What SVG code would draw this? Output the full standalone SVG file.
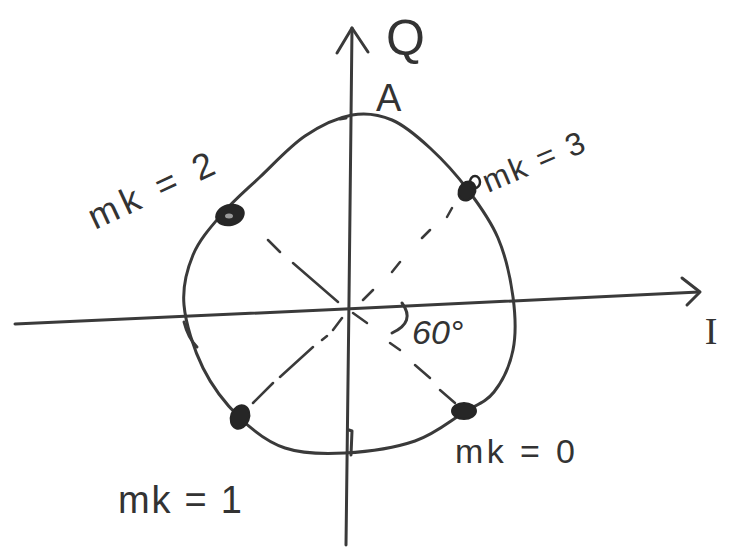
<svg xmlns="http://www.w3.org/2000/svg" width="752" height="550" viewBox="0 0 752 550">
<style>
.ink{fill:none;stroke:#3a3a3a;stroke-width:3;stroke-linecap:round;stroke-linejoin:round}
.dash{fill:none;stroke:#3a3a3a;stroke-width:2.5;stroke-linecap:round}
.dot{fill:#262626;stroke:#262626;stroke-width:2}
.lbl{font-family:"Liberation Sans",Arial,sans-serif;fill:#333}
</style>
<rect width="752" height="550" fill="#ffffff"/>
<g id="axes">
<path class="ink" d="M352,28 L349,300 L346,545"/>
<path class="ink" d="M337,53 L352,28 L368,52"/>
<path class="ink" d="M15,324 L345,309 L699,292"/>
<path class="ink" d="M682,278 L700,292 L687,305"/>
</g>
<g id="constellation-curve">
<path class="ink" d="M352,115 C366.5,112.3 379,114.5 392,120 C405,125.5 417.3,136.3 430,148 C442.7,159.7 456.7,175 468,190 C479.3,205 490.5,220.2 498,238 C505.5,255.8 510.5,278.3 513,297 C515.5,315.7 516.2,334.2 513,350 C509.8,365.8 502.3,381.5 494,392 C485.7,402.5 476.2,404.8 463,413 C449.8,421.2 434.7,434.3 415,441 C395.3,447.7 366.7,451.8 345,453 C323.3,454.2 302.5,453.8 285,448 C267.5,442.2 253.7,431.3 240,418 C226.3,404.7 212.3,386.8 203,368 C193.7,349.2 185.7,323.8 184,305 C182.3,286.2 186.7,270.2 193,255 C199.3,239.8 210.8,227 222,214 C233.2,201 246.2,190 260,177 C273.8,164 289.7,146.3 305,136 C320.3,125.7 337.5,117.7 352,115 Z"/>
<path class="ink" d="M184,322 Q188,338 197,347"/>
<path class="ink" d="M340,119 L346,118"/>
<path class="ink" d="M349,430 L352,431 L351,455"/>
</g>
<g id="connectors">
<path class="dash" d="M268,240 L280,252 M293,263 L338,302"/>
<path class="dash" d="M363,300 L373,290 M392,272 L400,262 M422,238 L430,230 M447,217 L452,208"/>
<path class="dash" d="M353,313 L367,323 M390,343 L400,350 M415,365 L430,378 M440,390 L455,403"/>
<path class="dash" d="M342,318 L333,330 M327,336 L322,340 M313,347 L280,377 M273,383 L253,403"/>
<path class="ink" d="M402,303 Q416,322 392,333"/>
</g>
<g id="point-mk2">
<ellipse class="dot" cx="230" cy="215" rx="14" ry="10" transform="rotate(-15 230 215)"/>
<ellipse cx="229" cy="216" rx="4" ry="2.5" fill="#999"/>
</g>
<g id="point-mk3">
<ellipse class="dot" cx="467" cy="191" rx="8" ry="10" transform="rotate(30 467 191)"/>
<ellipse cx="475" cy="182" rx="5" ry="6" fill="none" stroke="#262626" stroke-width="2.5"/>
</g>
<g id="point-mk0">
<ellipse class="dot" cx="464" cy="411" rx="12" ry="8"/>
</g>
<g id="point-mk1">
<ellipse class="dot" cx="240" cy="417" rx="9" ry="12" transform="rotate(20 240 417)"/>
</g>
<g id="labels">
<text class="lbl" x="386" y="55" font-size="50">Q</text>
<text class="lbl" x="376" y="111" font-size="38">A</text>
<text x="711" y="344" font-family="'Liberation Serif',serif" font-size="38" fill="#333" text-anchor="middle">I</text>
<text class="lbl" x="412" y="344" font-size="34" font-style="italic">60°</text>
<text class="lbl" x="95" y="230" font-size="36" textLength="135" lengthAdjust="spacing" transform="rotate(-25 95 230)">mk = 2</text>
<text class="lbl" x="488" y="193" font-size="32" textLength="108" lengthAdjust="spacing" transform="rotate(-23 488 193)">mk = 3</text>
<text class="lbl" x="455" y="463" font-size="34" textLength="120" lengthAdjust="spacing">mk = 0</text>
<text class="lbl" x="118" y="513" font-size="38" textLength="124" lengthAdjust="spacing">mk = 1</text>
</g>
</svg>
